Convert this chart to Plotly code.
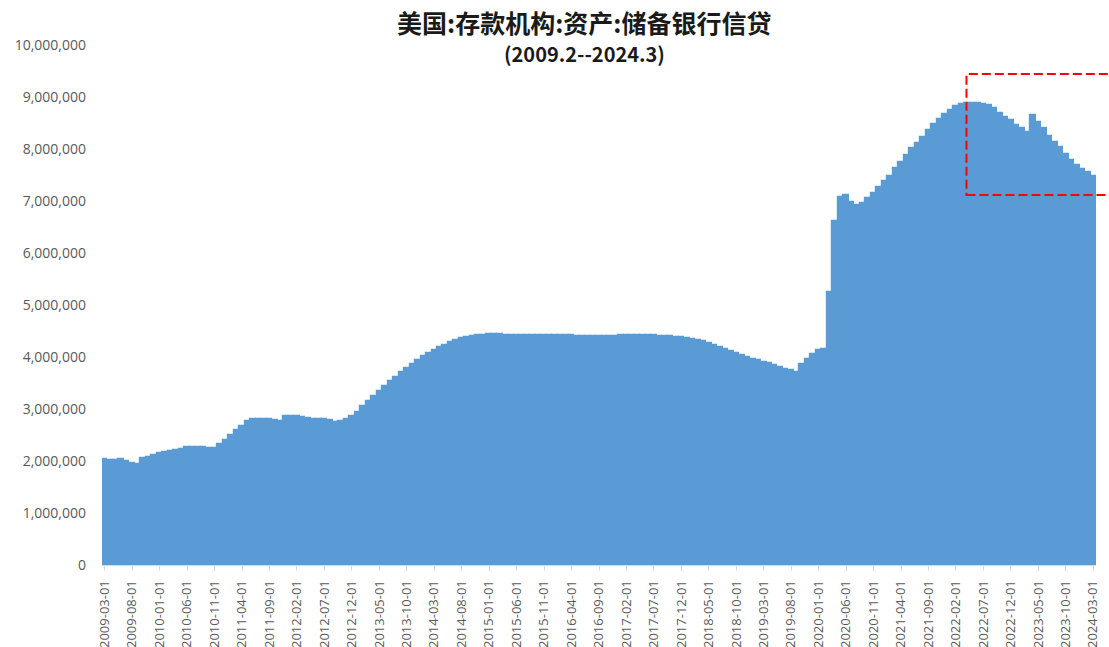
import plotly.graph_objects as go
import pandas as pd

# Monthly observations, 2009-03 .. 2024-03 (millions of USD)
months = pd.date_range("2009-03-01", "2024-03-01", freq="MS").strftime("%Y-%m-%d").tolist()

reserve_bank_credit = [
    # 2009-03 .. 2009-12
    2030000, 2020000, 2010000, 2030000, 2000000, 1970000, 1950000, 2050000, 2080000, 2120000,
    # 2010
    2150000, 2170000, 2190000, 2220000, 2240000, 2260000, 2270000, 2270000, 2270000, 2250000, 2250000, 2330000,
    # 2011
    2400000, 2500000, 2600000, 2680000, 2760000, 2800000, 2810000, 2800000, 2800000, 2780000, 2770000, 2860000,
    # 2012
    2860000, 2860000, 2850000, 2820000, 2810000, 2800000, 2810000, 2790000, 2750000, 2770000, 2800000, 2860000,
    # 2013
    2950000, 3050000, 3150000, 3250000, 3350000, 3450000, 3530000, 3620000, 3710000, 3790000, 3860000, 3940000,
    # 2014
    4010000, 4080000, 4140000, 4190000, 4240000, 4290000, 4330000, 4360000, 4380000, 4400000, 4420000, 4430000,
    # 2015
    4450000, 4450000, 4440000, 4430000, 4430000, 4420000, 4430000, 4430000, 4430000, 4430000, 4430000, 4430000,
    # 2016
    4430000, 4430000, 4420000, 4420000, 4410000, 4410000, 4410000, 4410000, 4410000, 4410000, 4410000, 4410000,
    # 2017
    4420000, 4420000, 4430000, 4420000, 4420000, 4420000, 4420000, 4410000, 4410000, 4410000, 4390000, 4380000,
    # 2018
    4370000, 4350000, 4330000, 4300000, 4270000, 4230000, 4190000, 4150000, 4110000, 4070000, 4030000, 4000000,
    # 2019
    3970000, 3940000, 3910000, 3880000, 3840000, 3800000, 3770000, 3750000, 3720000, 3860000, 3970000, 4050000,
    # 2020
    4140000, 4160000, 5250000, 6620000, 7080000, 7120000, 6980000, 6930000, 6970000, 7060000, 7150000, 7270000,
    # 2021
    7380000, 7480000, 7630000, 7750000, 7880000, 8010000, 8120000, 8240000, 8370000, 8480000, 8580000, 8670000,
    # 2022
    8750000, 8820000, 8870000, 8890000, 8890000, 8880000, 8870000, 8840000, 8780000, 8700000, 8620000, 8550000,
    # 2023
    8470000, 8400000, 8330000, 8660000, 8520000, 8400000, 8250000, 8130000, 8030000, 7900000, 7790000, 7700000,
    # 2024-01 .. 2024-03
    7620000, 7560000, 7480000,
]

tick_labels = months[::5]

title_line1 = "美国:存款机构:资产:储备银行信贷"
title_line2 = "(2009.2--2024.3)"

bar_blue = "#5B9BD5"
axis_gray = "#595959"

fig = go.Figure(
    go.Bar(
        x=months,
        y=reserve_bank_credit,
        marker=dict(color=bar_blue, line=dict(color=bar_blue, width=1.2)),
        hoverinfo="skip",
    )
)

# Dashed highlight box around the 2022-2024 decline
fig.add_shape(
    type="rect",
    xref="paper", yref="y",
    x0=0.8697, x1=1.05,
    y0=7115000, y1=9440000,
    line=dict(color="#FF0000", width=2, dash="9px,4px"),
    fillcolor="rgba(0,0,0,0)",
)

fig.add_annotation(
    text="<b>" + title_line1 + "</b>",
    xref="paper", yref="paper", x=(584 - 102) / 994, y=1.0,
    yshift=23, xanchor="center", yanchor="middle", showarrow=False,
    font=dict(family="Noto Sans CJK SC", size=25, color="#1a1a1a"),
)
fig.add_annotation(
    text="<b>" + title_line2 + "</b>",
    xref="paper", yref="paper", x=(584 - 102) / 994, y=1.0,
    yshift=-8, xanchor="center", yanchor="middle", showarrow=False,
    font=dict(family="Noto Sans CJK SC", size=20, color="#1a1a1a"),
)

fig.update_layout(
    width=1109,
    height=647,
    margin=dict(l=102, r=13, t=45, b=82, autoexpand=False),
    paper_bgcolor="white",
    plot_bgcolor="white",
    bargap=0,
    showlegend=False,
    font=dict(family="Open Sans", size=13, color=axis_gray),
)

fig.update_xaxes(
    type="category",
    tickmode="array",
    tickvals=tick_labels,
    ticktext=tick_labels,
    tickangle=-90,
    tickfont=dict(family="Open Sans", size=13, color=axis_gray),
    showgrid=False,
    showline=True,
    linecolor="#D9D9D9",
    linewidth=1,
    ticks="outside",
    ticklen=5,
    tickcolor="#D9D9D9",
    ticklabelstandoff=4,
    zeroline=False,
    automargin=False,
)

fig.update_yaxes(
    range=[0, 10000000],
    tickmode="linear",
    tick0=0,
    dtick=1000000,
    tickformat=",d",
    tickfont=dict(family="Open Sans", size=14, color=axis_gray),
    showgrid=False,
    showline=False,
    zeroline=False,
    ticks="",
    ticklabelstandoff=15,
    automargin=False,
)

fig.write_html("out.html")
